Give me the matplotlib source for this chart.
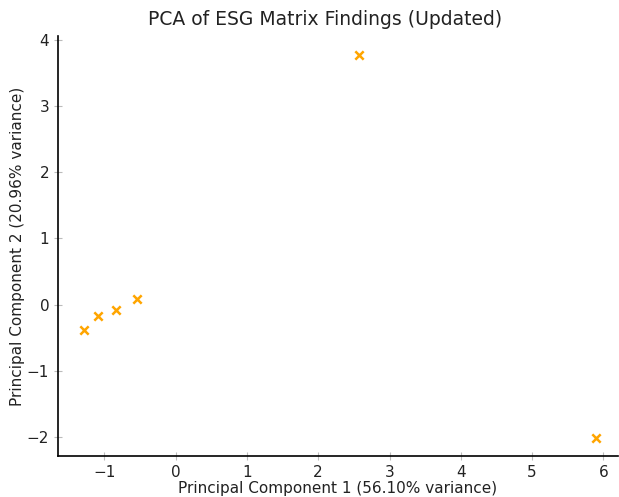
import numpy as np
import matplotlib
matplotlib.use("Agg")
import matplotlib.pyplot as plt

# PCA scores
pc1 = [-1.29, -1.08, -0.83, -0.54, 2.57, 5.89]
pc2 = [-0.38, -0.18, -0.08, 0.09, 3.77, -2.02]

var1 = 56.10
var2 = 20.96

fig = plt.figure(figsize=(6.19, 4.97), dpi=100)
ax = fig.add_axes([0.094, 0.0825, 0.904, 0.845])

ax.scatter(pc1, pc2, marker='x', color='#FFA500', s=36, linewidths=1.8)

ax.set_xlim(-1.645, 6.2)
ax.set_ylim(-2.29, 4.06)
ax.set_xticks([-1, 0, 1, 2, 3, 4, 5, 6])
ax.set_yticks([-2, -1, 0, 1, 2, 3, 4])

for side in ['top', 'right']:
    ax.spines[side].set_visible(False)
for side in ['left', 'bottom']:
    ax.spines[side].set_color('black')
    ax.spines[side].set_linewidth(1.2)

ax.tick_params(direction='inout', length=6, color='#bbbbbb', labelsize=11, labelcolor='#222222')

ax.set_title('PCA of ESG Matrix Findings (Updated)', fontsize=13.5, color='#222222', pad=8, x=0.477)
ax.set_xlabel(f'Principal Component 1 ({var1:.2f}% variance)', fontsize=11, color='#222222', labelpad=1)
ax.set_ylabel(f'Principal Component 2 ({var2:.2f}% variance)', fontsize=11, color='#222222', labelpad=1)

fig.savefig('out.png', dpi=100)
